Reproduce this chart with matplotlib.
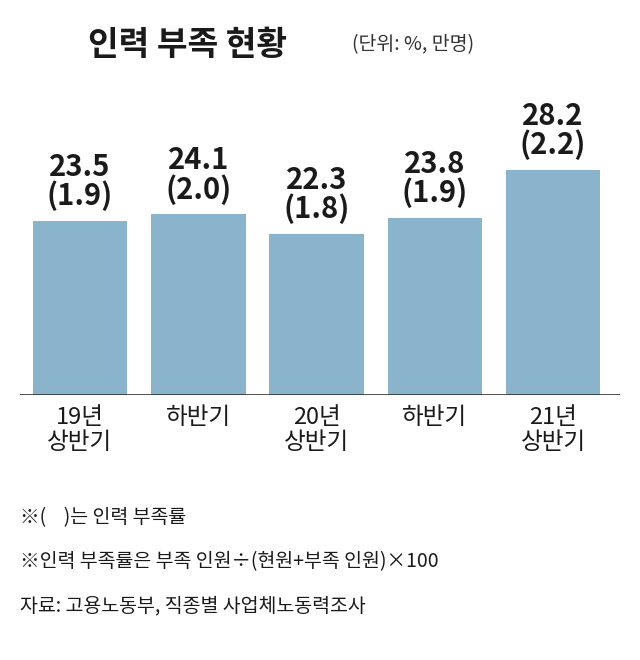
import matplotlib.pyplot as plt
from matplotlib import font_manager

# pick whichever CJK family is actually registered
cjk = [f.name for f in font_manager.fontManager.ttflist if 'CJK' in f.name]
kr = [n for n in cjk if 'KR' in n]
plt.rcParams['font.family'] = (kr or cjk or ['DejaVu Sans'])[:1] + ['DejaVu Sans']

categories = ['19년\n상반기', '하반기', '20년\n상반기', '하반기', '21년\n상반기']
shortage_rate = [23.5, 24.1, 22.3, 23.8, 28.2]
shortage_people = [1.9, 2.0, 1.8, 1.9, 2.2]

fig = plt.figure(figsize=(6.4, 6.6), dpi=100)
ax = fig.add_axes([20/640, 1 - 395/660, 600/640, 295/660])

x = list(range(len(categories)))
ax.bar(x, shortage_rate, width=0.8, color='#8ab3cc')
for i, (r, p) in enumerate(zip(shortage_rate, shortage_people)):
    ax.text(i, r + 0.9, f'{r}\n({p})', ha='center', va='bottom',
            fontsize=21, fontweight='bold', color='#1a1a1a', linespacing=0.95)

ax.set_xlim(-0.507, 4.565)
ax.set_ylim(7.46, 34.65)
ax.axis('off')
ax.axhline(7.46, color='#333333', lw=1.2)

for i, c in enumerate(categories):
    ax.text(i, 7.46 - 1.0, c, ha='center', va='top', fontsize=17,
            color='#1a1a1a', linespacing=1.1)

fig.text(88/640, 1 - 45/660, '인력 부족 현황', fontsize=24, fontweight='bold',
         color='#1a1a1a', va='center')
fig.text(352/640, 1 - 45/660, '(단위: %, 만명)', fontsize=14,
         color='#333333', va='center')

fig.text(20/640, 1 - 518/660, '※(    )는 인력 부족률', fontsize=14, color='#1a1a1a', va='center')
fig.text(20/640, 1 - 562/660, '※인력 부족률은 부족 인원÷(현원+부족 인원)×100', fontsize=14,
         color='#1a1a1a', va='center')
fig.text(20/640, 1 - 606/660, '자료: 고용노동부, 직종별 사업체노동력조사', fontsize=14,
         color='#1a1a1a', va='center')

fig.savefig('out.png', dpi=100, facecolor='white')
